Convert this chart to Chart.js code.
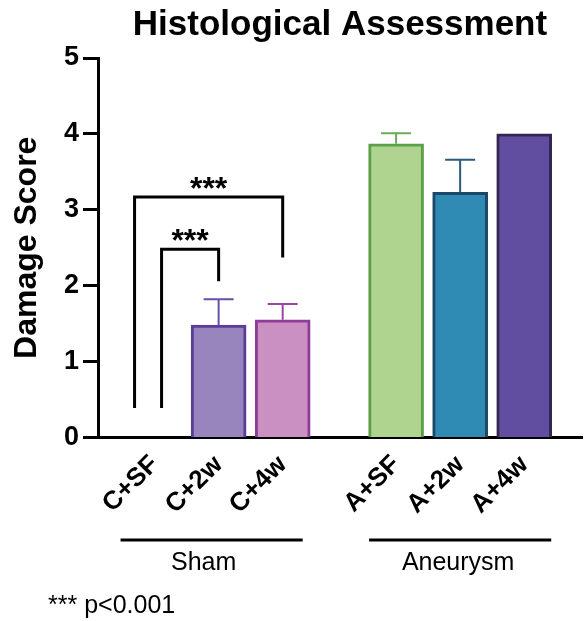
<!DOCTYPE html>
<html>
<head>
<meta charset="utf-8">
<script src="https://cdn.jsdelivr.net/npm/chart.js@4.4.1/dist/chart.umd.min.js"></script>
<style>
  html, body { margin: 0; padding: 0; background: #fff; }
  #wrap { width: 588px; height: 621px; }
</style>
</head>
<body>
<div id="wrap"><canvas id="histoChart"></canvas></div>
<script>
// === DATA ===
const categories = ["C+SF", "C+2w", "C+4w", "A+SF", "A+2w", "A+4w"];
const groupOf = ["Sham", "Sham", "Sham", "Aneurysm", "Aneurysm", "Aneurysm"];
const groups = ["Sham", "Aneurysm"];
const meanScores = [0, 1.48, 1.55, 3.87, 3.23, 4.0];
const semScores = [0, 0.34, 0.21, 0.14, 0.43, 0];
const yTicks = [0, 1, 2, 3, 4, 5];
// significance brackets: category indices, bracket height, leg ends (score units)
const brackets = [
  { from: 0, to: 2, top: 3.17, fromEnd: 0.39, toEnd: 2.37, stars: "***" },
  { from: 0, to: 1, top: 2.48, fromEnd: 0.39, toEnd: 2.06, stars: "***" }
];
const footnote = "*** p<0.001";

// === STYLE ===
const FONT = "'Liberation Sans', Arial, Helvetica, sans-serif";
const fills = ["#bbbbbb", "#9985bd", "#c990c1", "#afd48f", "#2f8bb3", "#624ea0"];
const borders = ["#777777", "#5a3d99", "#8f3b98", "#5b9f48", "#1c4767", "#33264f"];
const errColors = ["#777777", "#6a4ea8", "#9a47a3", "#6aab57", "#2a5a7c", "#33264f"];
const GROUP_GAP = 0.77;                  // extra space between Sham and Aneurysm
const bracketLegShift = [-20, 7];        // px shift of left legs inside C+SF slot
const groupLinePad = [[-34, 20], [-27, 27]];
const groupLabelShift = [-8, -2];

const xPos = categories.map((c, i) => i + (groupOf[i] === "Aneurysm" ? GROUP_GAP : 0));

// === ANNOTATIONS: error bars, brackets, group labels ===
const annotationsPlugin = {
  id: "annotations",
  afterDatasetsDraw(chart) {
    const { ctx, scales: { x, y } } = chart;
    ctx.save();

    // upper error bars
    meanScores.forEach((m, i) => {
      const e = semScores[i];
      if (!e) return;
      const px = x.getPixelForValue(xPos[i]);
      const base = y.getPixelForValue(m);
      const top = y.getPixelForValue(m + e);
      ctx.strokeStyle = errColors[i];
      ctx.lineWidth = 2;
      ctx.beginPath();
      ctx.moveTo(px, base);
      ctx.lineTo(px, top);
      ctx.moveTo(px - 15, top);
      ctx.lineTo(px + 15, top);
      ctx.stroke();
    });

    // brackets
    brackets.forEach((b, k) => {
      const x1 = x.getPixelForValue(xPos[b.from]) + bracketLegShift[k];
      const x2 = x.getPixelForValue(xPos[b.to]);
      const yt = y.getPixelForValue(b.top);
      ctx.strokeStyle = "#000";
      ctx.lineWidth = 3;
      ctx.lineJoin = "miter";
      ctx.beginPath();
      ctx.moveTo(x1, y.getPixelForValue(b.fromEnd));
      ctx.lineTo(x1, yt);
      ctx.lineTo(x2, yt);
      ctx.lineTo(x2, y.getPixelForValue(b.toEnd));
      ctx.stroke();
      ctx.fillStyle = "#000";
      ctx.font = "bold 32px " + FONT;
      ctx.textAlign = "center";
      ctx.textBaseline = "alphabetic";
      ctx.fillText(b.stars, (x1 + x2) / 2, yt + 2);
    });
    ctx.restore();
  },
  afterDraw(chart) {
    const { ctx, scales: { x } } = chart;
    ctx.save();
    groups.forEach((g, k) => {
      const idx = groupOf.map((v, i) => (v === g ? i : -1)).filter(i => i >= 0);
      const xa = x.getPixelForValue(xPos[idx[0]]) + groupLinePad[k][0];
      const xb = x.getPixelForValue(xPos[idx[idx.length - 1]]) + groupLinePad[k][1];
      ctx.strokeStyle = "#000";
      ctx.lineWidth = 3;
      ctx.beginPath();
      ctx.moveTo(xa, 540);
      ctx.lineTo(xb, 540);
      ctx.stroke();
      ctx.fillStyle = "#000";
      ctx.font = "25px " + FONT;
      ctx.textAlign = "center";
      ctx.textBaseline = "alphabetic";
      ctx.fillText(g, (xa + xb) / 2 + groupLabelShift[k], 570);
    });
    ctx.font = "25px " + FONT;
    ctx.textAlign = "left";
    ctx.fillText(footnote, 48, 613);
    ctx.restore();
  }
};

// === CHART ===
const ctx = document.getElementById("histoChart").getContext("2d");
window.histoChart = new Chart(ctx, {
  type: "bar",
  data: {
    datasets: [{
      data: xPos.map((xv, i) => ({ x: xv, y: meanScores[i] })),
      backgroundColor: fills,
      borderColor: borders,
      borderWidth: 3,
      barThickness: 55
    }]
  },
  plugins: [annotationsPlugin],
  options: {
    responsive: true,
    maintainAspectRatio: false,
    animation: false,
    layout: { padding: { left: 0, right: 6, top: 0, bottom: 0 } },
    plugins: {
      legend: { display: false },
      tooltip: { enabled: false },
      title: {
        display: true,
        text: "Histological Assessment",
        fullSize: false,
        color: "#000",
        font: { family: FONT, size: 35, weight: "bold" },
        padding: { top: 4, bottom: 12 }
      }
    },
    scales: {
      x: {
        type: "linear",
        offset: false,
        min: -0.883,
        max: 6.672,
        afterBuildTicks: s => { s.ticks = xPos.map(v => ({ value: v })); },
        afterFit: s => { s.height = 183.5; },
        ticks: {
          autoSkip: false,
          minRotation: 45,
          maxRotation: 45,
          padding: 4,
          color: "#000",
          font: { family: FONT, size: 26, weight: "bold" },
          callback: (v, i) => categories[i]
        },
        grid: { display: false },
        border: { display: true, color: "#000", width: 3 }
      },
      y: {
        min: 0,
        max: 5,
        afterBuildTicks: s => { s.ticks = yTicks.map(v => ({ value: v })); },
        afterFit: s => { s.width = 98; },
        ticks: {
          padding: 4,
          color: "#000",
          font: { family: FONT, size: 27, weight: "bold" }
        },
        grid: {
          display: true,
          drawOnChartArea: false,
          drawTicks: true,
          tickLength: 15,
          tickWidth: 3,
          tickColor: "#000"
        },
        border: { display: true, color: "#000", width: 3 },
        title: {
          display: true,
          text: "Damage Score",
          color: "#000",
          font: { family: FONT, size: 32, weight: "bold" },
          padding: { top: 8, bottom: 0 }
        }
      }
    }
  }
});
</script>
</body>
</html>
